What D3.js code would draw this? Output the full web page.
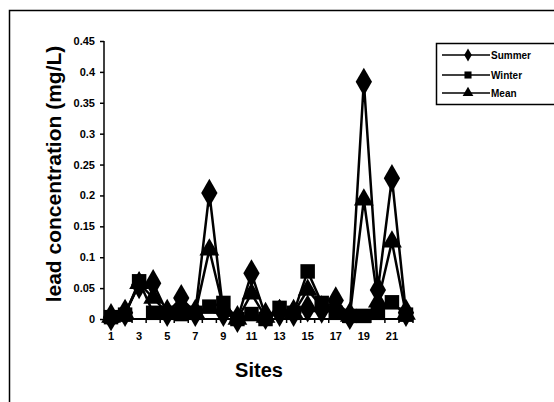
<!DOCTYPE html>
<html>
<head>
<meta charset="utf-8">
<script src="https://cdn.jsdelivr.net/npm/d3@7"></script>
<style>
  body { margin: 0; background: #fff; }
  text { font-family: Arial, "Liberation Sans", sans-serif; font-weight: bold; fill: #000; }
</style>
</head>
<body>
<div id="chart"></div>
<script>
var width = 554;
var height = 402;

var sites = d3.range(1, 23);
var summer = [0.003, 0.01, 0.055, 0.058, 0.01, 0.034, 0.01, 0.204, 0.01, 0.0, 0.074, 0.005,
              0.01, 0.01, 0.017, 0.015, 0.03, 0.005, 0.384, 0.047, 0.228, 0.01];
var winter = [0.003, 0.007, 0.061, 0.01, 0.01, 0.008, 0.01, 0.02, 0.026, 0.0, 0.008, 0.0,
              0.018, 0.01, 0.077, 0.026, 0.01, 0.005, 0.005, 0.01, 0.027, 0.007];
var mean = [0.003, 0.008, 0.058, 0.034, 0.01, 0.021, 0.01, 0.112, 0.018, 0.0, 0.041, 0.003,
            0.014, 0.01, 0.047, 0.02, 0.02, 0.005, 0.193, 0.028, 0.125, 0.008];
var yTicks = [0, 0.05, 0.1, 0.15, 0.2, 0.25, 0.3, 0.35, 0.4, 0.45];
var seriesNames = ["Summer", "Winter", "Mean"];

var svg = d3.select("#chart")
    .append("svg")
    .attr("width", width)
    .attr("height", height);

// outer frame
svg.append("rect")
    .attr("x", 9.5).attr("y", 10.5)
    .attr("width", 560).attr("height", 420)
    .attr("fill", "none").attr("stroke", "#000").attr("stroke-width", 1.5);

var x = d3.scaleBand().domain(sites).range([104, 413]);
var y = d3.scaleLinear().domain([0, 0.45]).range([319, 41]);

// y axis
var yAxis = svg.append("g")
    .attr("transform", "translate(104,0)")
    .call(d3.axisLeft(y).tickValues(yTicks).tickSize(4).tickPadding(5)
        .tickFormat(function(d){ return String(+d.toFixed(2)); }));
yAxis.select(".domain").remove();
yAxis.selectAll("line").attr("stroke-width", 1.5);
yAxis.selectAll("text").style("font-size", "11px");
svg.append("line")
    .attr("x1", 104).attr("x2", 104)
    .attr("y1", y(0.45)).attr("y2", y(0))
    .attr("stroke", "#000").attr("stroke-width", 1.5);

// x axis
var xAxis = svg.append("g")
    .attr("transform", "translate(0," + y(0) + ")")
    .call(d3.axisBottom(x).tickSize(0).tickPadding(13)
        .tickFormat(function(d){ return d % 2 === 1 ? d : ""; }));
xAxis.select(".domain").remove();
xAxis.selectAll("text").style("font-size", "11px");
svg.append("line")
    .attr("x1", 104).attr("x2", 413)
    .attr("y1", y(0)).attr("y2", y(0))
    .attr("stroke", "#000").attr("stroke-width", 2);
svg.append("g")
    .selectAll("line")
    .data(sites.concat([23]))
    .enter()
        .append("line")
        .attr("x1", function(d){ return d === 23 ? 413 : x(d); })
        .attr("x2", function(d){ return d === 23 ? 413 : x(d); })
        .attr("y1", y(0)).attr("y2", y(0) + 4)
        .attr("stroke", "#000").attr("stroke-width", 1.5);

// axis titles
svg.append("text")
    .attr("transform", "translate(61,174) rotate(-90)")
    .attr("text-anchor", "middle")
    .style("font-size", "21px")
    .text("lead concentration (mg/L)");
svg.append("text")
    .attr("x", 259).attr("y", 377)
    .attr("text-anchor", "middle")
    .style("font-size", "20px")
    .text("Sites");

var symbols = [d3.symbolDiamond, d3.symbolSquare, d3.symbolTriangle];
var symSizes = [230, 210, 170];
var data = [summer, winter, mean];

var line = d3.line()
    .x(function(d,i){ return x(sites[i]) + x.bandwidth() / 2; })
    .y(function(d){ return y(d); });

var plot = svg.append("g");
data.forEach(function(vals, k){
    plot.append("path")
        .datum(vals)
        .attr("d", line)
        .attr("fill", "none")
        .attr("stroke", "#000")
        .attr("stroke-width", 2.5);
});
data.forEach(function(vals, k){
    plot.append("g")
        .selectAll("path")
        .data(vals)
        .enter()
            .append("path")
            .attr("d", d3.symbol().type(symbols[k]).size(symSizes[k]))
            .attr("transform", function(d,i){
                return "translate(" + (x(sites[i]) + x.bandwidth() / 2) + "," + y(d) + ")";
            })
            .attr("fill", "#000");
});

// legend
var legend = svg.append("g");
legend.append("rect")
    .attr("x", 436.5).attr("y", 43.5)
    .attr("width", 120).attr("height", 61)
    .attr("fill", "#fff").attr("stroke", "#000").attr("stroke-width", 1.5);
var legendY = [55, 75, 93];
seriesNames.forEach(function(name, k){
    legend.append("line")
        .attr("x1", 442).attr("x2", 490)
        .attr("y1", legendY[k]).attr("y2", legendY[k])
        .attr("stroke", "#000").attr("stroke-width", 1.5);
    legend.append("path")
        .attr("d", d3.symbol().type(symbols[k]).size(50))
        .attr("transform", "translate(468," + legendY[k] + ")")
        .attr("fill", "#000");
    legend.append("text")
        .attr("x", 491).attr("y", legendY[k] + 3.5)
        .style("font-size", "10px")
        .text(name);
});
</script>
</body>
</html>
